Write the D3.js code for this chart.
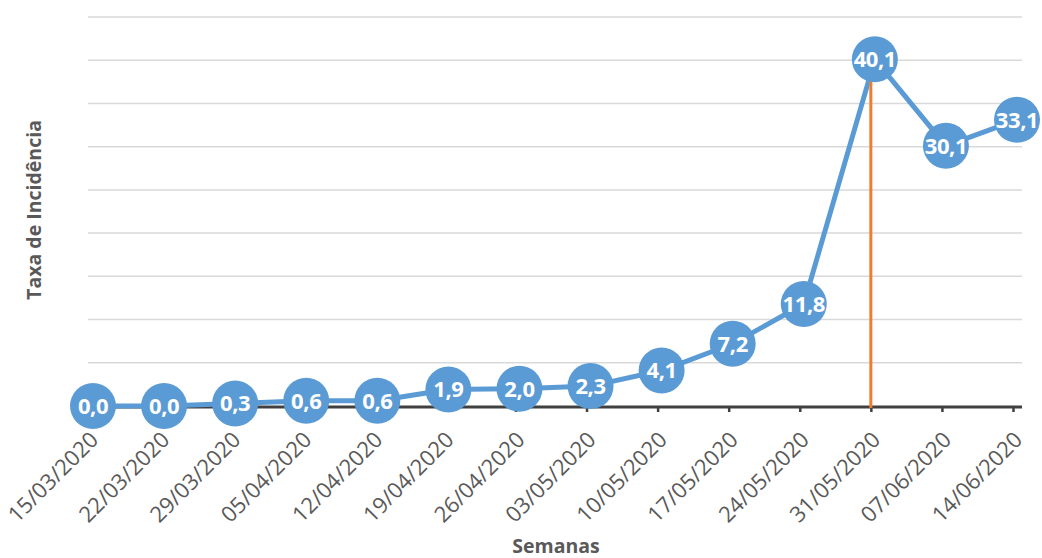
<!DOCTYPE html>
<html>
<head>
<meta charset="utf-8">
<script src="https://cdn.jsdelivr.net/npm/d3@7"></script>
<style>
  body { margin: 0; background: #fff; }
  svg { display: block; }
</style>
</head>
<body>
<svg id="chart" width="1042" height="558"></svg>
<script>
// Weekly incidence rate
const semanas = ["15/03/2020", "22/03/2020", "29/03/2020", "05/04/2020", "12/04/2020",
                 "19/04/2020", "26/04/2020", "03/05/2020", "10/05/2020", "17/05/2020",
                 "24/05/2020", "31/05/2020", "07/06/2020", "14/06/2020"];
const taxa = [0.0, 0.0, 0.3, 0.6, 0.6, 1.9, 2.0, 2.3, 4.1, 7.2, 11.8, 40.1, 30.1, 33.1];
const destaque = ["31/05/2020"];
const yTicks = [0, 5, 10, 15, 20, 25, 30, 35, 40, 45];

const svg = d3.select("#chart");
const plot = { left: 88, right: 1022, top: 17, bottom: 406 };

const x = d3.scalePoint().domain(semanas).range([89, 1013]);
const y = d3.scaleLinear().domain([0, 45]).range([plot.bottom, plot.top]);
const shift = 4; // markers sit slightly right of their tick marks
const px = s => x(s) + shift;

const blue = "#5b9bd5";
const orange = "#ed7d31";
const font = "'Open Sans', sans-serif";
const fmt = v => d3.format(".1f")(v).replace(".", ",");

// horizontal gridlines
svg.append("g")
  .selectAll("line")
  .data(yTicks.filter(d => d > 0))
  .join("line")
  .attr("x1", plot.left).attr("x2", plot.right)
  .attr("y1", d => y(d)).attr("y2", d => y(d))
  .attr("stroke", "#d9d9d9").attr("stroke-width", 1.5);

// category axis
const xAxis = svg.append("g")
  .attr("transform", `translate(0,${plot.bottom})`)
  .call(d3.axisBottom(x).tickSize(6).tickSizeOuter(0).tickFormat(""));
xAxis.select(".domain").remove();
xAxis.selectAll(".tick line").attr("stroke", "#404040").attr("stroke-width", 2.5);
svg.append("line")
  .attr("x1", plot.left).attr("x2", plot.right)
  .attr("y1", plot.bottom + 1).attr("y2", plot.bottom + 1)
  .attr("stroke", "#404040").attr("stroke-width", 3);

xAxis.selectAll(".tick")
  .append("text")
  .attr("transform", "translate(-1,24) rotate(-45)")
  .attr("text-anchor", "end")
  .attr("dy", "0.72em")
  .attr("fill", "#595959")
  .attr("font-family", font)
  .attr("font-size", 22)
  .text(d => d);

// series line
const pts = semanas.map((s, i) => ({ s, v: taxa[i] }));
svg.append("path")
  .datum(pts)
  .attr("fill", "none")
  .attr("stroke", blue)
  .attr("stroke-width", 5)
  .attr("stroke-linejoin", "round")
  .attr("d", d3.line().x(d => px(d.s)).y(d => y(d.v)));

// highlighted week marker
svg.append("g")
  .selectAll("line")
  .data(destaque)
  .join("line")
  .attr("x1", d => x(d)).attr("x2", d => x(d))
  .attr("y1", d => y(taxa[semanas.indexOf(d)]))
  .attr("y2", plot.bottom + 2)
  .attr("stroke", orange).attr("stroke-width", 3);

// markers with value labels
const mk = svg.append("g").selectAll("g").data(pts).join("g")
  .attr("transform", d => `translate(${px(d.s)},${y(d.v)})`);
mk.append("circle").attr("r", 23).attr("fill", blue);
mk.append("text")
  .attr("text-anchor", "middle")
  .attr("dy", "0.36em")
  .attr("fill", "#fff")
  .attr("font-family", font)
  .attr("font-weight", 700)
  .attr("font-size", 22)
  .attr("letter-spacing", -0.4)
  .text(d => fmt(d.v));

// axis titles
svg.append("text")
  .attr("transform", "translate(41,210) rotate(-90)")
  .attr("text-anchor", "middle")
  .attr("fill", "#595959")
  .attr("font-family", font)
  .attr("font-weight", 700)
  .attr("font-size", 19.5)
  .text("Taxa de Incidência");

svg.append("text")
  .attr("x", 556).attr("y", 553)
  .attr("text-anchor", "middle")
  .attr("fill", "#595959")
  .attr("font-family", font)
  .attr("font-weight", 700)
  .attr("font-size", 19.5)
  .text("Semanas");
</script>
</body>
</html>
